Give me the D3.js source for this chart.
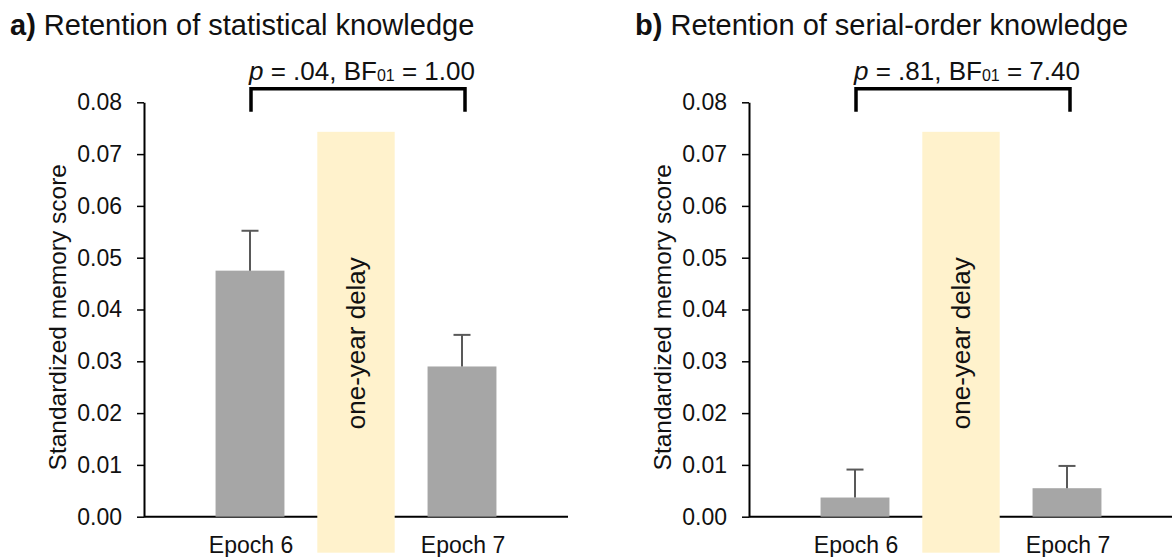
<!DOCTYPE html>
<html>
<head>
<meta charset="utf-8">
<script src="https://cdn.jsdelivr.net/npm/d3@7"></script>
<style>
  body { margin: 0; background: #fff; }
  svg { font-family: "Liberation Sans", Arial, sans-serif; }
</style>
</head>
<body>
<div id="chart"></div>
<script>
// values
const categories = ["Epoch 6", "Epoch 7"];
const slots = ["Epoch 6", "delay", "Epoch 7"];
const statMeans = [0.0475, 0.029];
const statErrors = [0.0077, 0.0061];
const serialMeans = [0.0037, 0.0055];
const serialErrors = [0.0054, 0.0043];
const yTicks = [0, 0.01, 0.02, 0.03, 0.04, 0.05, 0.06, 0.07, 0.08];
const panelLetters = ["a)", "b)"];
const panelTitles = ["Retention of statistical knowledge", "Retention of serial-order knowledge"];
const pValues = [".04", ".81"];
const bfValues = ["1.00", "7.40"];
const delayLabel = "one-year delay";
const yLabel = "Standardized memory score";

const width = 1172, height = 557;
const svg = d3.select("#chart").append("svg")
  .attr("width", width)
  .attr("height", height);

const y = d3.scaleLinear().domain([0, 0.08]).range([516.7, 102.3]);

const panels = [
  { means: statMeans, errors: statErrors, axisX: 144, titleX: 10, right: 568 },
  { means: serialMeans, errors: serialErrors, axisX: 749, titleX: 635, right: 1175 }
];

panels.forEach((p, i) => {
  const g = svg.append("g");
  const step = 106;
  const x = d3.scalePoint().domain(slots)
    .range([p.axisX, p.axisX + step * 4]).padding(1);
  const barW = step * 0.65;
  const bandW = step * 0.73;

  // title
  const title = g.append("text")
    .attr("x", p.titleX).attr("y", 35)
    .attr("font-size", 29).attr("fill", "#111");
  title.append("tspan").attr("font-weight", "bold").text(panelLetters[i]);
  title.append("tspan").text(" " + panelTitles[i]);

  // y axis
  const yAxis = g.append("g")
    .attr("transform", `translate(${p.axisX},0)`)
    .call(d3.axisLeft(y).tickValues(yTicks).tickFormat(d3.format(".2f"))
      .tickSize(7).tickPadding(15).tickSizeOuter(0));
  yAxis.select(".domain").attr("stroke", "#000").attr("stroke-width", 2);
  yAxis.selectAll(".tick line").attr("stroke", "#000").attr("stroke-width", 1.5);
  yAxis.selectAll(".tick text").attr("font-size", 23).attr("fill", "#111")
    .attr("font-family", "Liberation Sans, Arial, sans-serif");

  g.append("text")
    .attr("transform", `translate(${p.axisX - 87},${y(0.0385)}) rotate(-90)`)
    .attr("text-anchor", "middle").attr("dy", "0.35em")
    .attr("font-size", 24.5).attr("fill", "#111")
    .text(yLabel);

  // x axis baseline
  g.append("line")
    .attr("x1", p.axisX).attr("x2", p.right)
    .attr("y1", y(0)).attr("y2", y(0))
    .attr("stroke", "#000").attr("stroke-width", 2);

  // bars
  g.selectAll("rect.bar").data(categories).join("rect")
    .attr("class", "bar")
    .attr("x", d => x(d) - barW / 2)
    .attr("width", barW)
    .attr("y", (d, j) => y(p.means[j]))
    .attr("height", (d, j) => y(0) - y(p.means[j]))
    .attr("fill", "#a6a6a6");

  // error bars (upper only)
  const err = g.selectAll("g.err").data(categories).join("g").attr("class", "err");
  err.append("line")
    .attr("x1", d => x(d)).attr("x2", d => x(d))
    .attr("y1", (d, j) => y(p.means[j]))
    .attr("y2", (d, j) => y(p.means[j] + p.errors[j]))
    .attr("stroke", "#595959").attr("stroke-width", 2);
  err.append("line")
    .attr("x1", d => x(d) - 8.5).attr("x2", d => x(d) + 8.5)
    .attr("y1", (d, j) => y(p.means[j] + p.errors[j]))
    .attr("y2", (d, j) => y(p.means[j] + p.errors[j]))
    .attr("stroke", "#595959").attr("stroke-width", 2);

  // category labels
  g.selectAll("text.cat").data(categories).join("text")
    .attr("class", "cat")
    .attr("x", d => x(d) + 1).attr("y", 553)
    .attr("text-anchor", "middle")
    .attr("font-size", 23).attr("fill", "#111")
    .text(d => d);

  // delay band
  g.append("rect")
    .attr("x", x("delay") - bandW / 2)
    .attr("width", bandW)
    .attr("y", y(0.0743))
    .attr("height", y(0) + 36 - y(0.0743))
    .attr("fill", "#fff2cc");
  g.append("text")
    .attr("transform", `translate(${x("delay") + 9},${y(0.0335)}) rotate(-90)`)
    .attr("text-anchor", "middle")
    .attr("font-size", 26).attr("fill", "#111")
    .text(delayLabel);

  // significance bracket
  const x0 = x(categories[0]) + 1, x1 = x(categories[1]) + 3;
  const top = y(0.08) - 13.5, tip = y(0.08) + 9.5;
  g.append("path")
    .attr("d", `M${x0},${tip}V${top}H${x1}V${tip}`)
    .attr("fill", "none").attr("stroke", "#000").attr("stroke-width", 3.5);
  const lab = g.append("text")
    .attr("x", (x0 + x1) / 2 + 4).attr("y", 80)
    .attr("text-anchor", "middle")
    .attr("font-size", 26).attr("fill", "#111");
  lab.append("tspan").attr("font-style", "italic").text("p");
  lab.append("tspan").text(` = ${pValues[i]}, BF`);
  lab.append("tspan").attr("font-size", 16).attr("dy", 1).text("01");
  lab.append("tspan").attr("dy", -1).text(` = ${bfValues[i]}`);
});
</script>
</body>
</html>
